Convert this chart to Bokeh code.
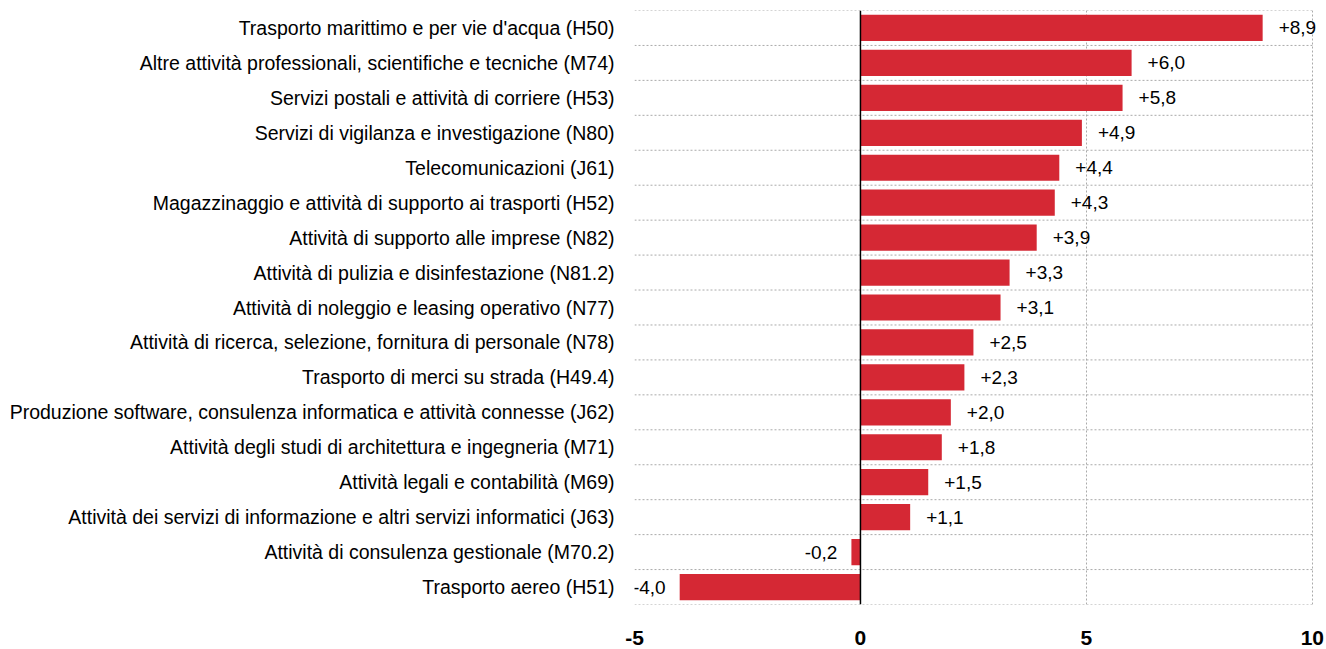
from bokeh.plotting import figure
from bokeh.models import ColumnDataSource, FixedTicker, Span, LabelSet
from bokeh.core.properties import value
from bokeh.embed import file_html
from bokeh.resources import INLINE

categories = [
    "Trasporto marittimo e per vie d'acqua (H50)",
    "Altre attività professionali, scientifiche e tecniche (M74)",
    "Servizi postali e attività di corriere (H53)",
    "Servizi di vigilanza e investigazione (N80)",
    "Telecomunicazioni (J61)",
    "Magazzinaggio e attività di supporto ai trasporti (H52)",
    "Attività di supporto alle imprese (N82)",
    "Attività di pulizia e disinfestazione (N81.2)",
    "Attività di noleggio e leasing operativo (N77)",
    "Attività di ricerca, selezione, fornitura di personale (N78)",
    "Trasporto di merci su strada (H49.4)",
    "Produzione software, consulenza informatica e attività connesse (J62)",
    "Attività degli studi di architettura e ingegneria (M71)",
    "Attività legali e contabilità (M69)",
    "Attività dei servizi di informazione e altri servizi informatici (J63)",
    "Attività di consulenza gestionale (M70.2)",
    "Trasporto aereo (H51)",
]
values = [8.9, 6.0, 5.8, 4.9, 4.4, 4.3, 3.9, 3.3, 3.1, 2.5, 2.3, 2.0, 1.8, 1.5, 1.1, -0.2, -4.0]
x_ticks = [-5, 0, 5, 10]

FONT = "Liberation Sans"
RED = "#D52834"
GRID = "#AAAAAA"

n = len(categories)
ypos = [n - 1 - i for i in range(n)]
labels = [f"{v:+.1f}".replace(".", ",") for v in values]

src = ColumnDataSource(dict(y=ypos, v=values, lab=labels))
pos = ColumnDataSource(dict(y=[y for y, v in zip(ypos, values) if v >= 0],
                            v=[v for v in values if v >= 0],
                            lab=[l for l, v in zip(labels, values) if v >= 0]))
neg = ColumnDataSource(dict(y=[y for y, v in zip(ypos, values) if v < 0],
                            v=[v for v in values if v < 0],
                            lab=[l for l, v in zip(labels, values) if v < 0]))

xmin, xmax = x_ticks[0], x_ticks[-1]
# a little room past the last gridline so the longest value label is not clipped
p = figure(width=1326, height=647, output_backend="svg", toolbar_location=None,
           x_range=(xmin, xmax + 0.18), y_range=(-0.5, n - 0.5),
           min_border_left=634, min_border_right=6, min_border_top=10, min_border_bottom=41)
p.outline_line_color = None

# horizontal dotted separators between categories, limited to the axis span
bounds = [i - 0.5 for i in range(n + 1)]
p.segment(x0=[xmin] * len(bounds), x1=[xmax] * len(bounds), y0=bounds, y1=bounds,
          line_color=GRID, line_dash="2 2", line_width=1)

p.hbar(y="y", right="v", left=0, height=0.75, source=src, color=RED, line_color=None)

p.add_layout(Span(location=0, dimension="height", line_color="black", line_width=1.5))

p.add_layout(LabelSet(x="v", y="y", text="lab", source=pos, x_offset=16, text_align="left",
                      text_baseline="middle", text_font=value(FONT), text_font_size=value("19px"),
                      text_color="black"))
p.add_layout(LabelSet(x="v", y="y", text="lab", source=neg, x_offset=-14, text_align="right",
                      text_baseline="middle", text_font=value(FONT), text_font_size=value("19px"),
                      text_color="black"))

# y axis with category labels
p.yaxis.ticker = FixedTicker(ticks=ypos)
p.yaxis.major_label_overrides = {y: c for y, c in zip(ypos, categories)}
p.yaxis.axis_line_color = None
p.yaxis.major_tick_line_color = None
p.yaxis.minor_tick_line_color = None
p.yaxis.major_label_text_font = FONT
p.yaxis.major_label_text_font_size = "19.5px"
p.yaxis.major_label_text_color = "black"
p.yaxis.major_label_standoff = 14

# x axis
p.xaxis.ticker = FixedTicker(ticks=x_ticks)
p.xaxis.major_label_overrides = {t: str(t) for t in x_ticks}
p.xaxis.axis_line_color = None
p.xaxis.major_tick_line_color = None
p.xaxis.minor_tick_line_color = None
p.xaxis.major_label_text_font = FONT
p.xaxis.major_label_text_font_style = "bold"
p.xaxis.major_label_text_font_size = "21px"
p.xaxis.major_label_text_color = "black"
p.xaxis.major_label_standoff = 20

# grids
p.ygrid.grid_line_color = None
p.xgrid.ticker = FixedTicker(ticks=[t for t in x_ticks if t != 0])
p.xgrid.grid_line_color = GRID
p.xgrid.grid_line_dash = "2 2"
p.xgrid.grid_line_width = 1

open("out.html", "w").write(file_html(p, INLINE))
